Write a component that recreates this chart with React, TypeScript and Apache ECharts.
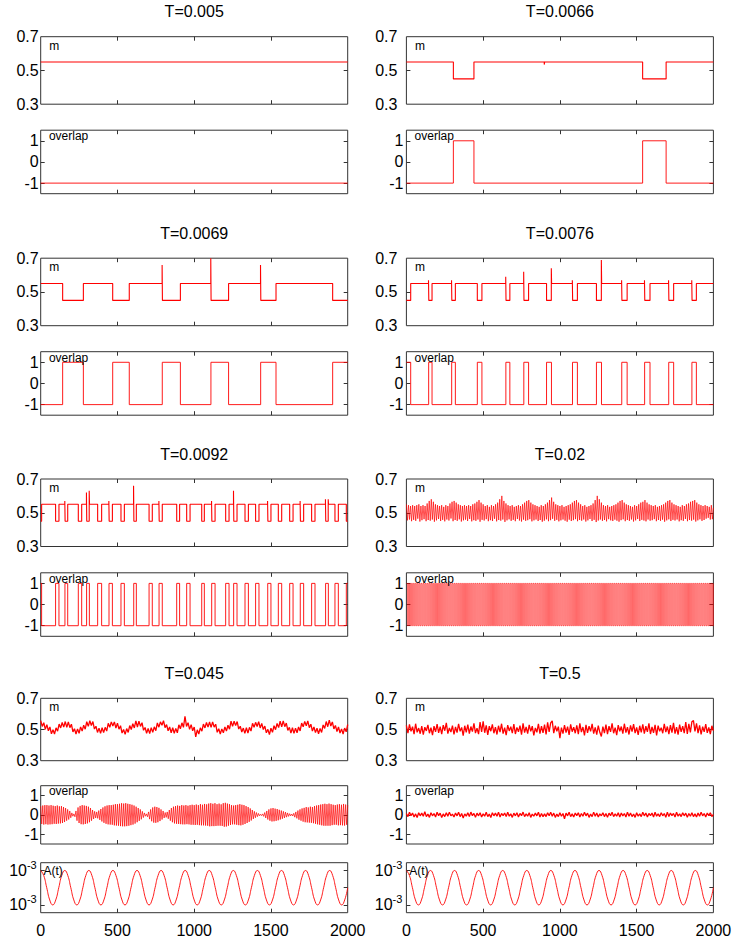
import React, { useEffect, useRef } from "react";
import * as echarts from "echarts";

// ---------------- ticks / labels ----------------
const X_LABELS = [0, 500, 1000, 1500, 2000];
const X_INNER_TICKS = [500, 1000, 1500];
const M_LABELS = [0.3, 0.5, 0.7];
const M_TICKS = [0.5];
const OV_LABELS = [-1, 0, 1];
const A_LABELS = [-1, 0, 1]; // in units of 10^-3

const TITLES = ["T=0.005", "T=0.0066", "T=0.0069", "T=0.0076", "T=0.0092", "T=0.02", "T=0.045", "T=0.5"];

// ---------------- square-wave series: [t, level] switch points ----------------
const m_T0005 = [[0, 0.55], [2000, 0.55]];
const ov_T0005 = [[0, -1], [2000, -1]];

const m_T0066 = [[0, 0.55], [306, 0.45], [440, 0.55], [898, 0.535], [901, 0.55], [1539, 0.45], [1692, 0.55], [2000, 0.55]];
const ov_T0066 = [[0, -1], [306, 1], [440, -1], [1539, 1], [1692, -1], [2000, -1]];

const m_T0069 = [[0, 0.55], [143, 0.45], [278, 0.55], [469, 0.45], [577, 0.55], [791, 0.66], [793, 0.45], [910, 0.55], [1108, 0.7], [1110, 0.45], [1224, 0.55], [1432, 0.66], [1434, 0.45], [1533, 0.55], [1902, 0.45], [2000, 0.45]];
const ov_T0069 = [[0, -1], [143, 1], [278, -1], [469, 1], [577, -1], [792, 1], [910, -1], [1109, 1], [1224, -1], [1433, 1], [1533, -1], [1902, 1], [2000, 1]];

const m_T0076 = [[0, 0.45], [28, 0.55], [144, 0.57], [146, 0.45], [167, 0.55], [294, 0.57], [296, 0.45], [319, 0.55], [462, 0.45], [492, 0.55], [647, 0.59], [649, 0.45], [674, 0.55], [764, 0.62], [766, 0.45], [796, 0.55], [913, 0.45], [944, 0.64], [946, 0.55], [1081, 0.57], [1083, 0.45], [1114, 0.55], [1238, 0.45], [1270, 0.69], [1272, 0.55], [1402, 0.57], [1404, 0.45], [1438, 0.55], [1551, 0.57], [1553, 0.45], [1587, 0.55], [1708, 0.57], [1710, 0.45], [1741, 0.55], [1859, 0.57], [1861, 0.45], [1889, 0.55], [2000, 0.55]];
const ov_T0076 = [[0, 1], [28, -1], [145, 1], [167, -1], [295, 1], [319, -1], [462, 1], [492, -1], [648, 1], [674, -1], [765, 1], [796, -1], [913, 1], [945, -1], [1082, 1], [1114, -1], [1238, 1], [1271, -1], [1403, 1], [1438, -1], [1552, 1], [1587, -1], [1709, 1], [1741, -1], [1860, 1], [1889, -1], [2000, -1]];

const m_T0092 = [[0, 0.45], [6, 0.55], [97, 0.45], [119, 0.55], [157, 0.57], [159, 0.45], [176, 0.55], [245, 0.45], [267, 0.55], [298, 0.62], [300, 0.45], [316, 0.63], [318, 0.55], [371, 0.45], [397, 0.55], [444, 0.57], [446, 0.45], [467, 0.55], [523, 0.45], [545, 0.55], [605, 0.66], [607, 0.45], [623, 0.55], [706, 0.45], [727, 0.55], [770, 0.57], [772, 0.45], [792, 0.55], [886, 0.45], [905, 0.55], [951, 0.45], [973, 0.55], [1049, 0.45], [1066, 0.55], [1113, 0.57], [1115, 0.45], [1136, 0.55], [1205, 0.45], [1227, 0.55], [1256, 0.63], [1258, 0.45], [1279, 0.55], [1331, 0.45], [1353, 0.55], [1400, 0.45], [1422, 0.55], [1478, 0.57], [1480, 0.45], [1500, 0.55], [1548, 0.45], [1570, 0.55], [1622, 0.45], [1644, 0.55], [1690, 0.57], [1692, 0.45], [1713, 0.55], [1765, 0.45], [1787, 0.55], [1855, 0.58], [1857, 0.45], [1873, 0.58], [1875, 0.55], [1917, 0.45], [1939, 0.55], [1991, 0.45], [2000, 0.45]];
const ov_T0092 = [[0, 1], [6, -1], [97, 1], [119, -1], [158, 1], [176, -1], [245, 1], [267, -1], [299, 1], [317, -1], [371, 1], [397, -1], [445, 1], [467, -1], [523, 1], [545, -1], [606, 1], [623, -1], [706, 1], [727, -1], [771, 1], [792, -1], [886, 1], [905, -1], [951, 1], [973, -1], [1049, 1], [1066, -1], [1114, 1], [1136, -1], [1205, 1], [1227, -1], [1257, 1], [1279, -1], [1331, 1], [1353, -1], [1400, 1], [1422, -1], [1479, 1], [1500, -1], [1548, 1], [1570, -1], [1622, 1], [1644, -1], [1691, 1], [1713, -1], [1765, 1], [1787, -1], [1856, 1], [1874, -1], [1917, 1], [1939, -1], [1991, 1], [2000, 1]];

// ---------------- dense series: values at a fixed time step ----------------
const FAST_STEP = 2000 / 296; // half period of the fast oscillation
const SLOW_STEP = 10;
const A_STEP = 2000 / 102;

// T=0.02 : m oscillation maxima / minima (alternating)
const m_T002_hi = [
  0.55, 0.545, 0.54, 0.545, 0.54, 0.545, 0.55, 0.54, 0.545, 0.54,
  0.555, 0.57, 0.58, 0.565, 0.55, 0.545, 0.54, 0.545, 0.535, 0.545,
  0.54, 0.555, 0.565, 0.57, 0.56, 0.55, 0.545, 0.54, 0.545, 0.54,
  0.545, 0.54, 0.55, 0.555, 0.565, 0.575, 0.56, 0.55, 0.54, 0.545,
  0.535, 0.545, 0.54, 0.55, 0.56, 0.58, 0.6, 0.57, 0.555, 0.545,
  0.54, 0.545, 0.535, 0.54, 0.545, 0.54, 0.55, 0.56, 0.57, 0.575,
  0.56, 0.55, 0.545, 0.54, 0.535, 0.545, 0.54, 0.55, 0.56, 0.575,
  0.59, 0.565, 0.55, 0.545, 0.54, 0.545, 0.535, 0.54, 0.545, 0.55,
  0.56, 0.57, 0.575, 0.56, 0.55, 0.54, 0.545, 0.535, 0.54, 0.545,
  0.555, 0.575, 0.6, 0.58, 0.56, 0.545, 0.54, 0.545, 0.535, 0.54,
  0.545, 0.55, 0.56, 0.57, 0.575, 0.56, 0.55, 0.545, 0.54, 0.535,
  0.545, 0.54, 0.55, 0.56, 0.565, 0.575, 0.56, 0.55, 0.545, 0.54,
  0.545, 0.535, 0.54, 0.545, 0.55, 0.56, 0.57, 0.575, 0.56, 0.55,
  0.545, 0.54, 0.535, 0.545, 0.54, 0.55, 0.555, 0.565, 0.57, 0.575,
  0.56, 0.55, 0.545, 0.54, 0.545, 0.54, 0.535, 0.545, 0.53,
];
const m_T002_lo = [
  0.455, 0.46, 0.45, 0.458, 0.452, 0.465, 0.448, 0.456, 0.462, 0.45,
  0.457, 0.453, 0.46, 0.447, 0.455, 0.463, 0.451, 0.458, 0.449, 0.46,
  0.454, 0.466, 0.45, 0.457, 0.452, 0.461, 0.448, 0.455, 0.459, 0.451,
  0.463, 0.449, 0.456, 0.452, 0.46, 0.447, 0.458, 0.454, 0.462, 0.45,
  0.456, 0.451, 0.464, 0.449, 0.457, 0.453, 0.46, 0.446, 0.455, 0.461,
  0.452, 0.458, 0.45, 0.463, 0.454, 0.448, 0.459, 0.452, 0.456, 0.462,
  0.449, 0.455, 0.46, 0.451, 0.457, 0.447, 0.453, 0.461, 0.45, 0.456,
  0.464, 0.452, 0.458, 0.449, 0.455, 0.46, 0.453, 0.447, 0.459, 0.451,
  0.456, 0.462, 0.45, 0.457, 0.453, 0.46, 0.448, 0.455, 0.463, 0.451,
  0.458, 0.445, 0.454, 0.46, 0.452, 0.457, 0.449, 0.462, 0.455, 0.451,
  0.459, 0.453, 0.447, 0.456, 0.461, 0.45, 0.457, 0.452, 0.46, 0.448,
  0.455, 0.463, 0.451, 0.458, 0.454, 0.449, 0.46, 0.453, 0.456, 0.462,
  0.45, 0.457, 0.452, 0.459, 0.447, 0.455, 0.461, 0.451, 0.458, 0.454,
  0.46, 0.449, 0.456, 0.452, 0.463, 0.45, 0.457, 0.453, 0.459, 0.448,
  0.455, 0.461, 0.452, 0.457, 0.465, 0.47, 0.46, 0.462,
];
// T=0.02 : overlap flips between +1 and -1 every half period
const ov_T002 = [
  1, -1, 1, -1, 1, -1, 1, -1, 1, -1, 1, -1, 1, -1, 1, -1, 1, -1, 1, -1,
  1, -1, 1, -1, 1, -1, 1, -1, 1, -1, 1, -1, 1, -1, 1, -1, 1, -1, 1, -1,
  1, -1, 1, -1, 1, -1, 1, -1, 1, -1, 1, -1, 1, -1, 1, -1, 1, -1, 1, -1,
  1, -1, 1, -1, 1, -1, 1, -1, 1, -1, 1, -1, 1, -1, 1, -1, 1, -1, 1, -1,
  1, -1, 1, -1, 1, -1, 1, -1, 1, -1, 1, -1, 1, -1, 1, -1, 1, -1, 1, -1,
  1, -1, 1, -1, 1, -1, 1, -1, 1, -1, 1, -1, 1, -1, 1, -1, 1, -1, 1, -1,
  1, -1, 1, -1, 1, -1, 1, -1, 1, -1, 1, -1, 1, -1, 1, -1, 1, -1, 1, -1,
  1, -1, 1, -1, 1, -1, 1, -1, 1, -1, 1, -1, 1, -1, 1, -1, 1, -1, 1, -1,
  1, -1, 1, -1, 1, -1, 1, -1, 1, -1, 1, -1, 1, -1, 1, -1, 1, -1, 1, -1,
  1, -1, 1, -1, 1, -1, 1, -1, 1, -1, 1, -1, 1, -1, 1, -1, 1, -1, 1, -1,
  1, -1, 1, -1, 1, -1, 1, -1, 1, -1, 1, -1, 1, -1, 1, -1, 1, -1, 1, -1,
  1, -1, 1, -1, 1, -1, 1, -1, 1, -1, 1, -1, 1, -1, 1, -1, 1, -1, 1, -1,
  1, -1, 1, -1, 1, -1, 1, -1, 1, -1, 1, -1, 1, -1, 1, -1, 1, -1, 1, -1,
  1, -1, 1, -1, 1, -1, 1, -1, 1, -1, 1, -1, 1, -1, 1, -1, 1, -1, 1, -1,
  1, -1, 1, -1, 1, -1, 1, -1, 1, -1, 1, -1, 1, -1, 1, -1, 1,
];

// T=0.045 : m (noisy slow wave), sampled every SLOW_STEP
const m_T0045 = [
  0.557, 0.52, 0.544, 0.501, 0.531, 0.492, 0.516, 0.472, 0.498, 0.471, 0.511, 0.489, 0.535, 0.51, 0.545, 0.515,
  0.551, 0.514, 0.549, 0.512, 0.534, 0.485, 0.505, 0.471, 0.504, 0.476, 0.517, 0.49, 0.527, 0.502, 0.55, 0.52,
  0.556, 0.525, 0.551, 0.503, 0.521, 0.481, 0.509, 0.475, 0.511, 0.48, 0.514, 0.49, 0.54, 0.514, 0.549,
  0.522, 0.549, 0.509, 0.541, 0.502, 0.524, 0.477, 0.5, 0.469, 0.506, 0.481, 0.525, 0.5, 0.537, 0.51, 0.555,
  0.516, 0.554, 0.52, 0.544, 0.495, 0.513, 0.476, 0.506, 0.474, 0.512, 0.482, 0.517, 0.492, 0.542, 0.515, 0.549,
  0.527, 0.557, 0.512, 0.531, 0.492, 0.516, 0.479, 0.511, 0.476, 0.507, 0.479, 0.53, 0.505, 0.543, 0.514,
  0.585, 0.52, 0.544, 0.501, 0.531, 0.492, 0.516, 0.452, 0.498, 0.471, 0.511, 0.489, 0.535, 0.51, 0.545, 0.515,
  0.548, 0.514, 0.549, 0.515, 0.534, 0.482, 0.505, 0.471, 0.504, 0.479, 0.517, 0.49, 0.527, 0.502, 0.553, 0.52,
  0.553, 0.525, 0.551, 0.503, 0.521, 0.484, 0.509, 0.475, 0.511, 0.477, 0.514, 0.49, 0.54, 0.514, 0.546,
  0.519, 0.55, 0.51, 0.539, 0.5, 0.522, 0.479, 0.501, 0.467, 0.508, 0.482, 0.524, 0.499, 0.539, 0.512, 0.554,
  0.517, 0.555, 0.518, 0.541, 0.494, 0.514, 0.477, 0.511, 0.475, 0.509, 0.479, 0.516, 0.491, 0.541, 0.517, 0.552,
  0.524, 0.555, 0.512, 0.534, 0.49, 0.516, 0.48, 0.508, 0.473, 0.507, 0.481, 0.529, 0.507, 0.551, 0.518,
  0.56, 0.522, 0.549, 0.504, 0.526, 0.487, 0.516, 0.477, 0.504, 0.471, 0.509, 0.485, 0.532,
];
// T=0.045 : overlap fast oscillation maxima / minima
const ov_T0045_hi = [
  0.45, 0.48, 0.5, 0.5, 0.48, 0.5, 0.47, 0.45, 0.48, 0.44,
  0.45, 0.4, 0.35, 0.28, 0.2, 0.1, 0.05, 0.2, 0.38, 0.46,
  0.5, 0.48, 0.46, 0.42, 0.35, 0.25, 0.18, 0.15, 0.22, 0.3,
  0.38, 0.44, 0.48, 0.5, 0.5, 0.52, 0.55, 0.55, 0.57, 0.6,
  0.58, 0.6, 0.57, 0.55, 0.52, 0.48, 0.42, 0.35, 0.28, 0.18,
  0.1, 0.05, 0.15, 0.28, 0.38, 0.42, 0.4, 0.36, 0.28, 0.2,
  0.12, 0.15, 0.25, 0.35, 0.42, 0.45, 0.48, 0.46, 0.5, 0.48,
  0.5, 0.47, 0.5, 0.52, 0.5, 0.53, 0.5, 0.55, 0.52, 0.56,
  0.54, 0.58, 0.6, 0.57, 0.6, 0.55, 0.58, 0.54, 0.6, 0.62,
  0.58, 0.55, 0.5, 0.48, 0.5, 0.52, 0.55, 0.52, 0.5, 0.45,
  0.4, 0.33, 0.25, 0.18, 0.12, 0.07, 0.03, 0.05, 0.12, 0.2,
  0.28, 0.33, 0.35, 0.32, 0.3, 0.26, 0.22, 0.18, 0.14, 0.1,
  0.06, 0.04, 0.08, 0.15, 0.22, 0.28, 0.33, 0.36, 0.4, 0.38,
  0.42, 0.4, 0.45, 0.48, 0.5, 0.53, 0.55, 0.57, 0.55, 0.58,
  0.55, 0.52, 0.5, 0.53, 0.55, 0.52, 0.56, 0.53, 0.5,
];
const ov_T0045_lo = [
  -0.47, -0.5, -0.48, -0.5, -0.49, -0.48, -0.46, -0.47, -0.45, -0.44,
  -0.42, -0.37, -0.3, -0.24, -0.15, -0.07, -0.1, -0.3, -0.42, -0.48,
  -0.49, -0.47, -0.44, -0.38, -0.3, -0.21, -0.16, -0.18, -0.26, -0.34,
  -0.41, -0.46, -0.49, -0.5, -0.51, -0.54, -0.55, -0.56, -0.58, -0.59,
  -0.59, -0.58, -0.56, -0.53, -0.5, -0.45, -0.38, -0.31, -0.23, -0.14,
  -0.07, -0.1, -0.22, -0.33, -0.4, -0.41, -0.38, -0.32, -0.24, -0.16,
  -0.13, -0.2, -0.3, -0.38, -0.44, -0.46, -0.47, -0.48, -0.49, -0.49,
  -0.48, -0.49, -0.51, -0.51, -0.52, -0.51, -0.53, -0.54, -0.54, -0.55,
  -0.56, -0.59, -0.58, -0.58, -0.57, -0.56, -0.56, -0.57, -0.61, -0.6,
  -0.56, -0.52, -0.49, -0.49, -0.51, -0.53, -0.54, -0.51, -0.47, -0.42,
  -0.36, -0.29, -0.21, -0.15, -0.09, -0.05, -0.04, -0.08, -0.16, -0.24,
  -0.3, -0.34, -0.33, -0.31, -0.28, -0.24, -0.2, -0.16, -0.12, -0.08,
  -0.05, -0.06, -0.12, -0.18, -0.25, -0.3, -0.35, -0.38, -0.39, -0.4,
  -0.41, -0.43, -0.46, -0.49, -0.51, -0.54, -0.56, -0.56, -0.56, -0.56,
  -0.53, -0.51, -0.51, -0.54, -0.53, -0.54, -0.55, -0.51,
];

// T=0.5 : noise, sampled every SLOW_STEP
const m_T05 = [
  0.527, 0.477, 0.533, 0.488, 0.518, 0.47, 0.537, 0.482, 0.509, 0.473,
  0.521, 0.467, 0.515, 0.491, 0.53, 0.476, 0.512, 0.464, 0.522, 0.485,
  0.534, 0.479, 0.518, 0.471, 0.528, 0.492, 0.542, 0.474, 0.51, 0.483,
  0.525, 0.468, 0.516, 0.48, 0.536, 0.488, 0.513, 0.461, 0.524, 0.482,
  0.531, 0.474, 0.519, 0.486, 0.54, 0.477, 0.509, 0.47, 0.548, 0.485,
  0.552, 0.479, 0.527, 0.465, 0.521, 0.489, 0.533, 0.476, 0.515, 0.468,
  0.524, 0.483, 0.537, 0.473, 0.512, 0.464, 0.528, 0.491, 0.518, 0.477,
  0.534, 0.471, 0.513, 0.485, 0.525, 0.467, 0.539, 0.48, 0.516, 0.474,
  0.53, 0.488, 0.521, 0.462, 0.51, 0.482, 0.536, 0.473, 0.522, 0.479,
  0.531, 0.468, 0.546, 0.485, 0.542, 0.555, 0.476, 0.524, 0.489, 0.518,
  0.445, 0.512, 0.473, 0.528, 0.48, 0.519, 0.465, 0.533, 0.486, 0.515,
  0.476, 0.527, 0.47, 0.539, 0.483, 0.516, 0.462, 0.53, 0.479, 0.521,
  0.488, 0.536, 0.474, 0.513, 0.467, 0.525, 0.482, 0.455, 0.518, 0.477,
  0.531, 0.471, 0.522, 0.485, 0.54, 0.476, 0.512, 0.464, 0.528, 0.489,
  0.519, 0.473, 0.537, 0.48, 0.515, 0.468, 0.527, 0.486, 0.534, 0.477,
  0.513, 0.465, 0.524, 0.482, 0.533, 0.474, 0.521, 0.485, 0.539, 0.471,
  0.516, 0.479, 0.53, 0.462, 0.525, 0.488, 0.512, 0.476, 0.536, 0.483,
  0.519, 0.47, 0.528, 0.48, 0.543, 0.474, 0.515, 0.467, 0.531, 0.485,
  0.522, 0.477, 0.548, 0.471, 0.536, 0.482, 0.55, 0.557, 0.488, 0.54,
  0.476, 0.527, 0.468, 0.518, 0.485, 0.534, 0.479, 0.513, 0.471, 0.524,
  0.492,
];
const ov_T05 = [
  0.07, -0.09, 0.13, -0.04, 0.09, -0.11, 0.05, -0.14, 0.11, -0.05,
  0.09, -0.07, 0.16, -0.09, 0.04, -0.13, 0.11, -0.05, 0.07, -0.11,
  0.13, -0.04, 0.09, -0.14, 0.05, -0.09, 0.11, -0.07, 0.14, -0.05,
  0.04, -0.11, 0.09, -0.05, 0.13, -0.09, 0.07, -0.16, 0.05, -0.07,
  0.11, -0.09, 0.14, -0.04, 0.07, -0.13, 0.09, -0.05, 0.11, -0.11,
  0.05, -0.07, 0.13, -0.09, 0.04, -0.14, 0.11, -0.05, 0.09, -0.07,
  0.14, -0.11, 0.07, -0.04, 0.09, -0.09, 0.13, -0.07, 0.05, -0.13,
  0.09, -0.05, 0.11, -0.11, 0.07, -0.04, 0.14, -0.09, 0.05, -0.07,
  0.11, -0.13, 0.04, -0.07, 0.09, -0.05, 0.13, -0.11, 0.07, -0.09,
  0.05, -0.09, 0.11, -0.05, 0.14, -0.07, 0.09, -0.13, 0.04, -0.09,
  0.11, -0.07, 0.07, -0.2, 0.09, -0.05, 0.13, -0.09, 0.05, -0.11,
  0.09, -0.04, 0.11, -0.11, 0.07, -0.07, 0.13, -0.05, 0.09, -0.13,
  0.04, -0.09, 0.14, -0.07, 0.09, -0.11, 0.05, -0.05, 0.11, -0.09,
  0.07, -0.13, 0.09, -0.04, 0.13, -0.09, 0.05, -0.07, 0.11, -0.11,
  0.09, -0.05, 0.07, -0.11, 0.14, -0.07, 0.09, -0.09, 0.04, -0.13,
  0.11, -0.07, 0.05, -0.09, 0.13, -0.05, 0.09, -0.11, 0.07, -0.04,
  0.09, -0.11, 0.13, -0.07, 0.05, -0.09, 0.11, -0.05, 0.07, -0.13,
  0.14, -0.09, 0.09, -0.04, 0.07, -0.11, 0.13, -0.07, 0.05, -0.09,
  0.11, -0.05, 0.09, -0.13, 0.07, -0.07, 0.11, -0.09, 0.05, -0.11,
  0.09, -0.07, 0.13, -0.05, 0.07, -0.11, 0.09, -0.04, 0.11, -0.09,
  0.02,
];

// A(t) driving field, in units of 10^-3, sampled every A_STEP
const A_values = [
  1, 0.71, 0, -0.71, -1, -0.71, 0, 0.71,
  1, 0.71, 0, -0.71, -1, -0.71, 0, 0.71,
  1, 0.71, 0, -0.71, -1, -0.71, 0, 0.71,
  1, 0.71, 0, -0.71, -1, -0.71, 0, 0.71,
  1, 0.71, 0, -0.71, -1, -0.71, 0, 0.71,
  1, 0.71, 0, -0.71, -1, -0.71, 0, 0.71,
  1, 0.71, 0, -0.71, -1, -0.71, 0, 0.71,
  1, 0.71, 0, -0.71, -1, -0.71, 0, 0.71,
  1, 0.71, 0, -0.71, -1, -0.71, 0, 0.71,
  1, 0.71, 0, -0.71, -1, -0.71, 0, 0.71,
  1, 0.71, 0, -0.71, -1, -0.71, 0, 0.71,
  1, 0.71, 0, -0.71, -1, -0.71, 0, 0.71,
  1, 0.71, 0, -0.71, -1, -0.71, 0,
];

// ---------------- helpers to build tables ----------------
const sampled = (vals: number[], step: number) => vals.map((v, i) => [i * step, v]);
const alternate = (hi: number[], lo: number[]) => {
  const out: number[] = [];
  for (let i = 0; i < hi.length; i++) {
    out.push(hi[i]);
    if (i < lo.length) out.push(lo[i]);
  }
  return out;
};

const FONT = "'Liberation Sans', Arial, Helvetica, sans-serif";
const RED = "#ff0000";
const FRAME = "#333333";

function buildOption() {
  const COL_X = [40.7, 406.4];
  const W = 307;
  const ROWS: any[] = [
    { m: [36.7, 67.5], ov: [130.2, 63.5], mDy: 9, ovDy: 5.8 },
    { m: [258.2, 67.5], ov: [351.7, 63.5], mDy: 9, ovDy: 5.8 },
    { m: [479, 67.5], ov: [572.8, 63.5], mDy: 9, ovDy: 5.8 },
    { m: [698.3, 62.4], ov: [785.7, 58.3], A: [862.7, 50], mDy: 8.2, ovDy: 5.2, aDy: 7.9 },
  ];
  const sq = (d: number[][], w = 1) => ({ data: d, step: "end", width: w });
  const PANELS: any[] = [
    [{ m: sq(m_T0005, 1.1), ov: sq(ov_T0005, 0.9) }, { m: sq(m_T0066, 1.1), ov: sq(ov_T0066, 0.9) }],
    [{ m: sq(m_T0069, 1.1), ov: sq(ov_T0069, 0.9) }, { m: sq(m_T0076, 1.1), ov: sq(ov_T0076, 0.9) }],
    [{ m: sq(m_T0092, 1.1), ov: sq(ov_T0092, 0.9) },
     { m: { data: sampled(alternate(m_T002_hi, m_T002_lo), FAST_STEP), width: 0.7 },
       ov: { data: sampled(ov_T002, FAST_STEP), step: "end", width: 0.6 } }],
    [{ m: { data: sampled(m_T0045, SLOW_STEP), width: 1.3 },
       ov: { data: sampled(alternate(ov_T0045_hi, ov_T0045_lo), FAST_STEP), width: 0.7 },
       A: { data: sampled(A_values, A_STEP), width: 0.9, smooth: true } },
     { m: { data: sampled(m_T05, SLOW_STEP), width: 1.3 },
       ov: { data: sampled(ov_T05, SLOW_STEP), width: 1.3 },
       A: { data: sampled(A_values, A_STEP), width: 0.9, smooth: true } }],
  ];

  const grid: any[] = [];
  const xAxis: any[] = [];
  const yAxis: any[] = [];
  const series: any[] = [];
  const graphic: any[] = [];

  const tickStyle = { color: FRAME, width: 1 };

  ROWS.forEach((row, r) => {
    [0, 1].forEach((c) => {
      const left = COL_X[c];
      graphic.push({
        type: "text",
        x: left + W / 2,
        y: row.m[0] - 25,
        style: { text: TITLES[r * 2 + c], fontSize: 16, fontFamily: FONT, fill: "#000", align: "center", textAlign: "center", verticalAlign: "middle", textVerticalAlign: "middle" },
      });
      const kinds = row.A ? ["m", "ov", "A"] : ["m", "ov"];
      kinds.forEach((kind) => {
        const [top, height] = row[kind];
        const g = grid.length;
        grid.push({ left, top, width: W, height, show: true, borderColor: FRAME, borderWidth: 1, backgroundColor: "transparent", containLabel: false, outerBoundsMode: "none" });
        const isBottom = kind === "A";
        const xBase = {
          type: "value", gridIndex: g, min: 0, max: 2000,
          axisLine: { show: false, onZero: false }, splitLine: { show: false },
          axisTick: { show: true, inside: true, length: 4, lineStyle: tickStyle, customValues: X_INNER_TICKS },
        };
        xAxis.push({
          ...xBase, position: "bottom",
          axisLabel: { show: isBottom, customValues: X_LABELS, formatter: (v: number) => String(v), margin: 10, fontSize: 16, color: "#000", fontFamily: FONT, showMinLabel: true, showMaxLabel: true },
        });
        xAxis.push({ ...xBase, position: "top", axisLabel: { show: false } });

        let yMin, yMax, labels, ticks, formatter, margin, rich;
        if (kind === "m") {
          yMin = 0.3; yMax = 0.7; labels = M_LABELS; ticks = M_TICKS;
          formatter = (v: number) => v.toFixed(1);
          margin = c === 0 ? 2 : 9;
        } else if (kind === "ov") {
          yMin = -1.5; yMax = 1.5; labels = OV_LABELS; ticks = OV_LABELS;
          formatter = (v: number) => String(v);
          margin = c === 0 ? 2 : 3;
        } else {
          yMin = -1.45; yMax = 1.45; labels = A_LABELS; ticks = A_LABELS;
          formatter = (v: number) => (v === 0 ? "0" : "{b|10}{s|-3}");
          margin = 4;
          rich = {
            b: { fontSize: 16, lineHeight: 22, fontFamily: FONT, color: "#000" },
            s: { fontSize: 11, lineHeight: 11, verticalAlign: "top", fontFamily: FONT, color: "#000" },
          };
        }
        const yBase = {
          type: "value", gridIndex: g, min: yMin, max: yMax,
          axisLine: { show: false, onZero: false }, splitLine: { show: false },
          axisTick: { show: true, inside: true, length: 4, lineStyle: tickStyle, customValues: ticks },
        };
        yAxis.push({
          ...yBase, position: "left",
          axisLabel: { show: true, customValues: labels, formatter, margin, fontSize: 16, color: "#000", fontFamily: FONT, showMinLabel: true, showMaxLabel: true, rich },
        });
        yAxis.push({ ...yBase, position: "right", axisLabel: { show: false } });

        const p = PANELS[r][c][kind];
        series.push({
          type: "line", xAxisIndex: g * 2, yAxisIndex: g * 2,
          data: p.data, step: p.step || false, smooth: !!p.smooth,
          symbol: "none", showSymbol: false, silent: true, clip: true,
          lineStyle: { color: RED, width: p.width },
        });

        const label = kind === "m" ? "m" : kind === "ov" ? "overlap" : "A(t)";
        const dx = kind === "A" ? 2.8 : kind === "m" ? 8.6 : 8.2;
        const dy = kind === "m" ? row.mDy : kind === "ov" ? row.ovDy : row.aDy;
        graphic.push({
          type: "text", x: left + dx, y: top + dy, z: 100,
          style: { text: label, fontSize: 12, fontFamily: FONT, fill: "#000", align: "left", textAlign: "left", verticalAlign: "middle", textVerticalAlign: "middle" },
        });
      });
    });
  });

  return {
    animation: false,
    backgroundColor: "#ffffff",
    textStyle: { fontFamily: FONT },
    grid, xAxis, yAxis, series, graphic,
  };
}

export default function App() {
  const ref = useRef<HTMLDivElement>(null);
  useEffect(() => {
    document.body.style.margin = "0";
    const chart = echarts.init(ref.current as HTMLDivElement, null, { renderer: "svg" });
    chart.setOption(buildOption() as any);
    return () => chart.dispose();
  }, []);
  return <div ref={ref} style={{ width: 734, height: 941 }} />;
}
